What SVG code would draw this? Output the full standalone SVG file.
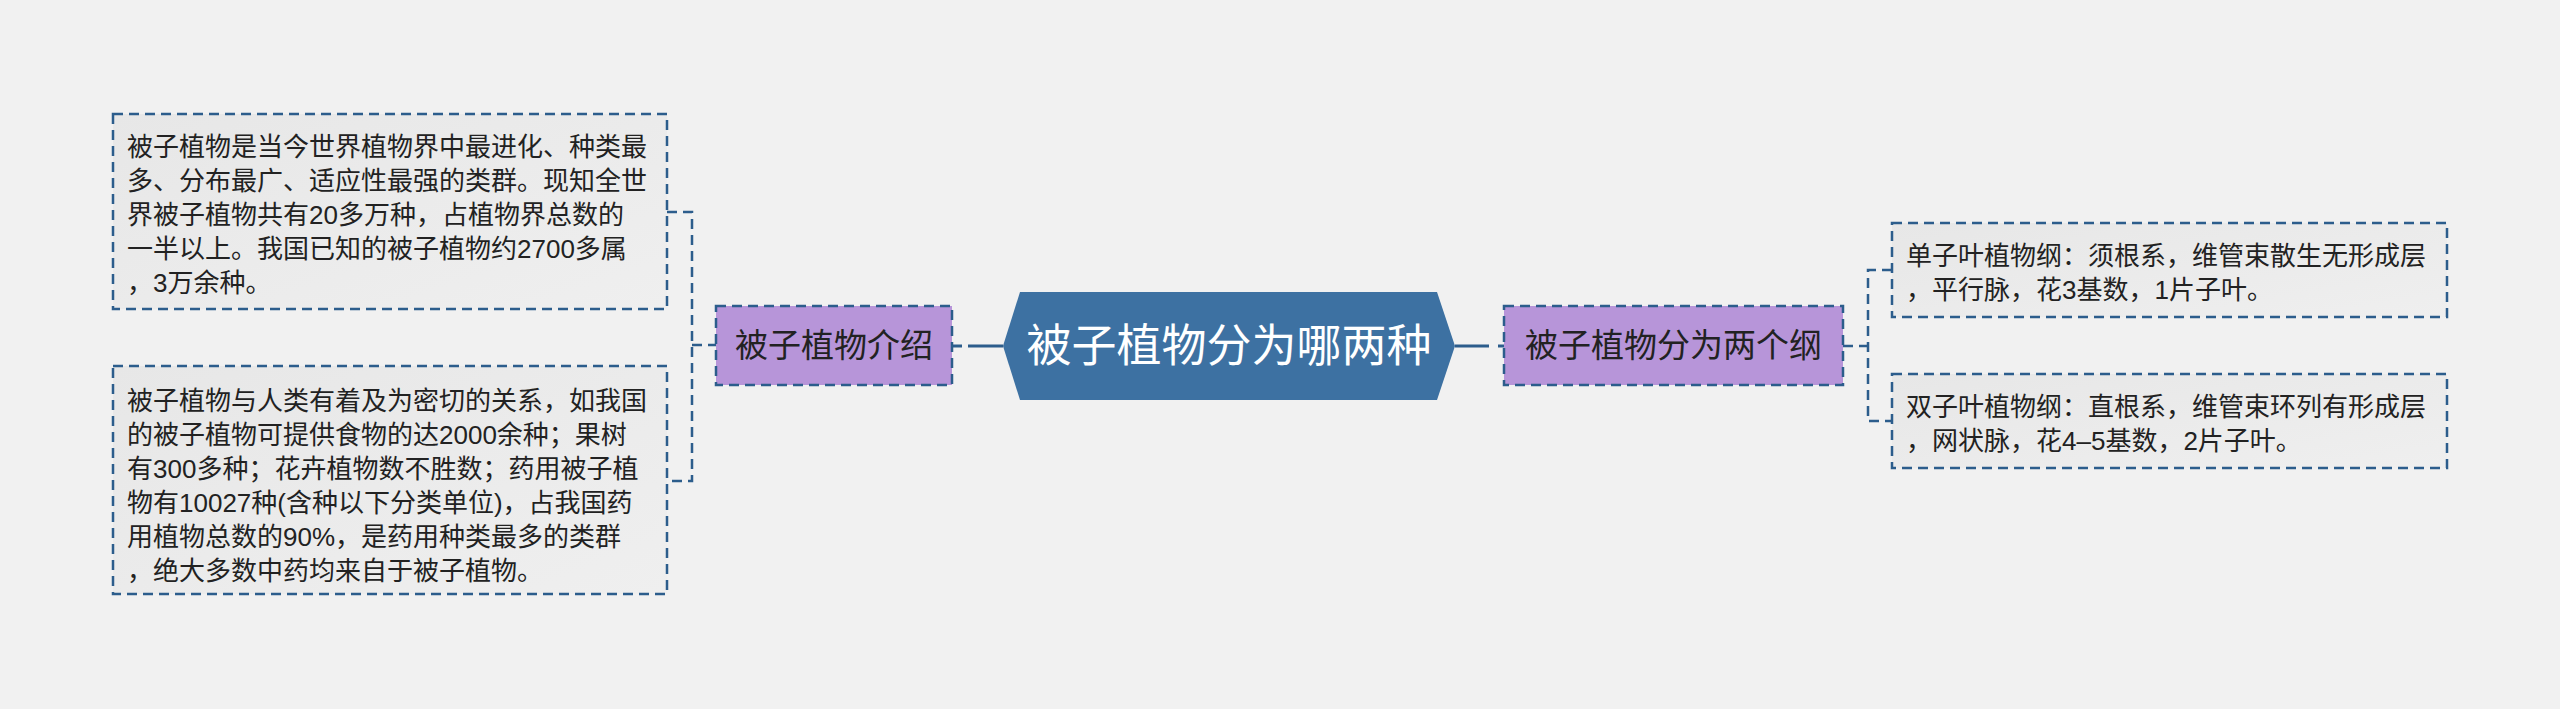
<svg xmlns="http://www.w3.org/2000/svg" width="2560" height="709" viewBox="0 0 2560 709">
<defs>
<linearGradient id="boxg" x1="0" y1="0" x2="1" y2="1">
<stop offset="0" stop-color="#e7e7e7"/>
<stop offset="1" stop-color="#efefef"/>
</linearGradient>
<style>
.bg{fill:#f1f1f1}
.box{fill:url(#boxg);stroke:#2c5d8c;stroke-width:2.5;stroke-dasharray:10 6}
.sub{fill:#b795d9;stroke:#2c5d8c;stroke-width:2.5;stroke-dasharray:10 6}
.hex{fill:#3d71a2}
.t{font-family:"Liberation Sans","Noto Sans CJK SC",sans-serif;font-size:26px;fill:#222222}
.st{font-family:"Liberation Sans","Noto Sans CJK SC",sans-serif;font-size:33px;fill:#222222;text-anchor:middle}
.ct{font-family:"Liberation Sans","Noto Sans CJK SC",sans-serif;font-size:45px;fill:#ffffff;text-anchor:middle}
.dl{fill:none;stroke:#2c5d8c;stroke-width:2.5;stroke-dasharray:10 6}
.sl{fill:none;stroke:#2c5d8c;stroke-width:3}
</style>
</defs>
<rect class="bg" x="0" y="0" width="2560" height="709"/>
<g id="connectors">
<path class="dl" d="M667 212 H692 V481 H667"/>
<path class="dl" d="M692 345 H716"/>
<line class="sl" x1="953" y1="346" x2="962" y2="346"/>
<line class="sl" x1="968" y1="346" x2="1003" y2="346"/>
<line class="sl" x1="1455" y1="346" x2="1489" y2="346"/>
<line class="sl" x1="1498" y1="346" x2="1504" y2="346"/>
<path class="dl" d="M1843 346 H1868"/>
<path class="dl" d="M1892 270 H1868 V421 H1892"/>
</g>
<g id="center">
<polygon class="hex" points="1003,346 1020,292 1437,292 1455,346 1437,400 1020,400"/>
<text class="ct" x="1229" y="362">被子植物分为哪两种</text>
</g>
<g id="intro">
<rect class="sub" x="716" y="306" width="236" height="79"/>
<text class="st" x="834" y="357">被子植物介绍</text>
</g>
<g id="classes">
<rect class="sub" x="1504" y="306" width="339" height="79"/>
<text class="st" x="1673.5" y="357">被子植物分为两个纲</text>
</g>
<g id="intro-1">
<rect class="box" x="113" y="114" width="554" height="195"/>
<text class="t" x="127" y="156">被子植物是当今世界植物界中最进化、种类最</text>
<text class="t" x="127" y="190">多、分布最广、适应性最强的类群。现知全世</text>
<text class="t" x="127" y="224">界被子植物共有20多万种，占植物界总数的</text>
<text class="t" x="127" y="258">一半以上。我国已知的被子植物约2700多属</text>
<text class="t" x="127" y="292">，3万余种。</text>
</g>
<g id="intro-2">
<rect class="box" x="113" y="366" width="554" height="228"/>
<text class="t" x="127" y="410">被子植物与人类有着及为密切的关系，如我国</text>
<text class="t" x="127" y="444">的被子植物可提供食物的达2000余种；果树</text>
<text class="t" x="127" y="478">有300多种；花卉植物数不胜数；药用被子植</text>
<text class="t" x="127" y="512">物有10027种(含种以下分类单位)，占我国药</text>
<text class="t" x="127" y="546">用植物总数的90%，是药用种类最多的类群</text>
<text class="t" x="127" y="580">，绝大多数中药均来自于被子植物。</text>
</g>
<g id="monocot">
<rect class="box" x="1892" y="223" width="555" height="94"/>
<text class="t" x="1906" y="265">单子叶植物纲：须根系，维管束散生无形成层</text>
<text class="t" x="1906" y="299">，平行脉，花3基数，1片子叶。</text>
</g>
<g id="dicot">
<rect class="box" x="1892" y="374" width="555" height="94"/>
<text class="t" x="1906" y="416">双子叶植物纲：直根系，维管束环列有形成层</text>
<text class="t" x="1906" y="450">，网状脉，花4–5基数，2片子叶。</text>
</g>
</svg>
